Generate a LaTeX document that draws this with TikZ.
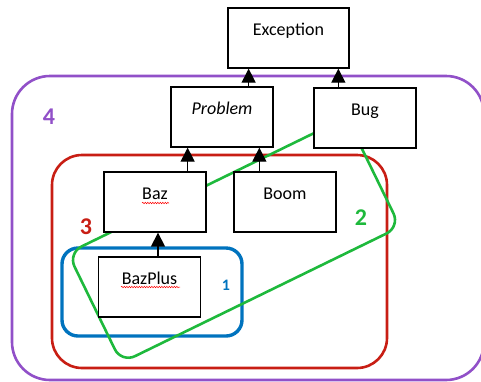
\documentclass[tikz,border=0pt]{standalone}
\usepackage{fontspec}
\setmainfont{Carlito}
\usetikzlibrary{arrows.meta,decorations.pathmorphing}
\definecolor{grpfour}{RGB}{145,80,200}
\definecolor{grpthree}{RGB}{200,30,20}
\definecolor{grptwo}{RGB}{30,185,60}
\definecolor{grpone}{RGB}{0,115,190}

\begin{document}
\begin{tikzpicture}[x=1pt,y=-1pt,
  cls/.style={draw,fill=white,line width=1.3pt,inner sep=0pt,minimum width=102pt,
    text height=27pt,text depth=33pt,font=\fontsize{18}{20}\selectfont},
  isa/.style={line width=1.3pt,-{Triangle[width=14pt,length=14pt]}},
  grp/.style={line width=2.6pt,rounded corners=#1},
  num/.style={font=\fontsize{24}{26}\selectfont\bfseries},
  squiggle/.style={red,line width=0.5pt,decorate,
    decoration={snake,amplitude=0.7pt,segment length=2.5pt}}]
\useasboundingbox (0,0) rectangle (481,381);
% groups
\draw[grp=38pt,grpfour] (12,76) rectangle (484,380);
\draw[grp=30pt,grpthree] (52,155) rectangle (387,368);
\draw[grp=16pt,grpone,line width=3.4pt] (62,248) rectangle (242,336);
\draw[grp=15pt,grptwo,rotate around={26:(234,240)}]
  (79,179) -- (389,179) -- (389,301) -- (79,301) -- cycle;
% classes
\node[cls,minimum width=121pt] (exception) at (288.5,38) {Exception};
\node[cls] (problem) at (222,117) {\itshape Problem};
\node[cls] (bug) at (365,118) {Bug};
\node[cls] (baz) at (155,202) {Baz};
\node[cls] (boom) at (285,202) {Boom};
\node[cls] (bazplus) at (149.5,287) {BazPlus};
% spell-check marks
\draw[squiggle] ([xshift=-13pt,yshift=-4pt]baz.base) -- ([xshift=14pt,yshift=-4pt]baz.base);
\draw[squiggle] ([xshift=-28.5pt,yshift=-3pt]bazplus.base) -- ([xshift=30.5pt,yshift=-3pt]bazplus.base);
% inheritance
\draw[isa] ([xshift=-25pt]problem.north east) -- ([xshift=-25pt]problem.north east |- exception.south);
\draw[isa] ([xshift=25pt]bug.north west) -- ([xshift=25pt]bug.north west |- exception.south);
\draw[isa] ([xshift=-19pt]baz.north east) -- ([xshift=-19pt]baz.north east |- problem.south);
\draw[isa] ([xshift=26pt]boom.north west) -- ([xshift=26pt]boom.north west |- problem.south);
\draw[isa] ([xshift=3pt]baz.south |- bazplus.north) -- ([xshift=3pt]baz.south);
% group numbers
\node[num,grpfour] (four) at (49,117) {4};
\node[num,grpthree] (three) at (86,227) {3};
\node[num,grptwo] (two) at (361,218) {2};
\node[num,grpone,font=\fontsize{16}{18}\selectfont\bfseries] (one) at (226,285) {1};
\end{tikzpicture}
\end{document}
